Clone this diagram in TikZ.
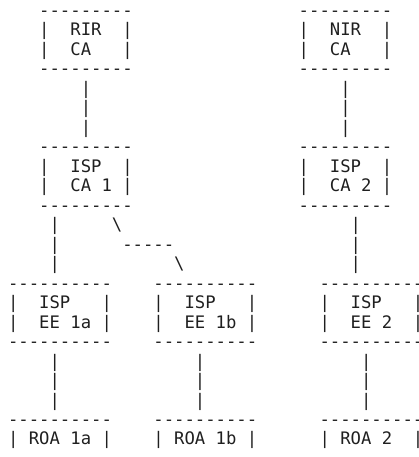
\documentclass[tikz,border=0pt]{standalone}
\usepackage{fontspec}
\newfontfamily\asciifont{DejaVu Sans Mono}

% character grid: cell width, left margin, first baseline, line pitch (pt)
\newcommand\asciiColW{10.38}
\newcommand\asciiX{8.1}
\newcommand\asciiBase{16.4}
\newcommand\asciiRowH{19.48}

\tikzset{
  ascii/.style={font=\asciifont\fontsize{17.24}{19.48}\selectfont,
    anchor=base west, inner sep=0pt, outer sep=0pt, text=black!88}
}

% a run of characters starting at grid cell (col,row)
\newcommand\asciitext[4]{%
  \node[ascii] (#1) at ({\asciiX+(#2)*\asciiColW},{-(\asciiBase+(#3)*\asciiRowH)}) {#4};}

% a row of single hyphens (kept apart so no dash ligature forms)
\newcommand\dashrun[1]{\foreach \k in {1,...,#1}{-}}

% box: name, left col, top row, width in chars, label col, line 1, line 2
\newcommand\asciibox[7]{%
  \asciitext{#1-top}{#2}{#3}{\dashrun{#4}}
  \asciitext{#1-w1}{#2}{#3+1}{|}
  \asciitext{#1-l1}{#5}{#3+1}{#6}
  \asciitext{#1-e1}{#2+#4-1}{#3+1}{|}
  \asciitext{#1-w2}{#2}{#3+2}{|}
  \asciitext{#1-l2}{#5}{#3+2}{#7}
  \asciitext{#1-e2}{#2+#4-1}{#3+2}{|}
  \asciitext{#1-bot}{#2}{#3+3}{\dashrun{#4}}
}

% one-line box whose lower edge runs off the sheet
\newcommand\asciirow[5]{%
  \asciitext{#1-top}{#2}{#3}{\dashrun{10}}
  \asciitext{#1-w1}{#2}{#3+1}{|}
  \asciitext{#1-l1}{#4}{#3+1}{#5}
  \asciitext{#1-e1}{#2+9}{#3+1}{|}
}

% vertical link of three bars: name, col, first row
\newcommand\asciilink[3]{%
  \asciitext{#1-1}{#2}{#3}{|}
  \asciitext{#1-2}{#2}{#3+1}{|}
  \asciitext{#1-3}{#2}{#3+2}{|}
}

\begin{document}
\begin{tikzpicture}[x=1pt,y=1pt]
\useasboundingbox (0,0) rectangle (419,-457);

% certificate authorities
\asciibox{rir}{3}{0}{9}{6}{RIR}{CA}
\asciibox{nir}{28}{0}{9}{31}{NIR}{CA}
\asciibox{ispca1}{3}{7}{9}{6}{ISP}{CA 1}
\asciibox{ispca2}{28}{7}{9}{31}{ISP}{CA 2}

% end entities
\asciibox{ee1a}{0}{14}{10}{3}{ISP}{EE 1a}
\asciibox{ee1b}{14}{14}{10}{17}{ISP}{EE 1b}
\asciibox{ee2}{30}{14}{10}{33}{ISP}{EE 2}

% route origin authorizations
\asciirow{roa1a}{0}{21}{2}{ROA 1a}
\asciirow{roa1b}{14}{21}{16}{ROA 1b}
\asciirow{roa2}{30}{21}{32}{ROA 2}

% links
\asciilink{rir-ispca1}{7}{4}
\asciilink{nir-ispca2}{32}{4}
\asciilink{ispca1-ee1a}{4}{11}
\asciilink{ispca2-ee2}{33}{11}
\asciilink{ee1a-roa1a}{4}{18}
\asciilink{ee1b-roa1b}{18}{18}
\asciilink{ee2-roa2}{34}{18}

% bent link from CA 1 to EE 1b
\asciitext{ispca1-ee1b-a}{10}{11}{\textbackslash}
\asciitext{ispca1-ee1b-b}{11}{12}{\dashrun{5}}
\asciitext{ispca1-ee1b-c}{16}{13}{\textbackslash}
\end{tikzpicture}
\end{document}
